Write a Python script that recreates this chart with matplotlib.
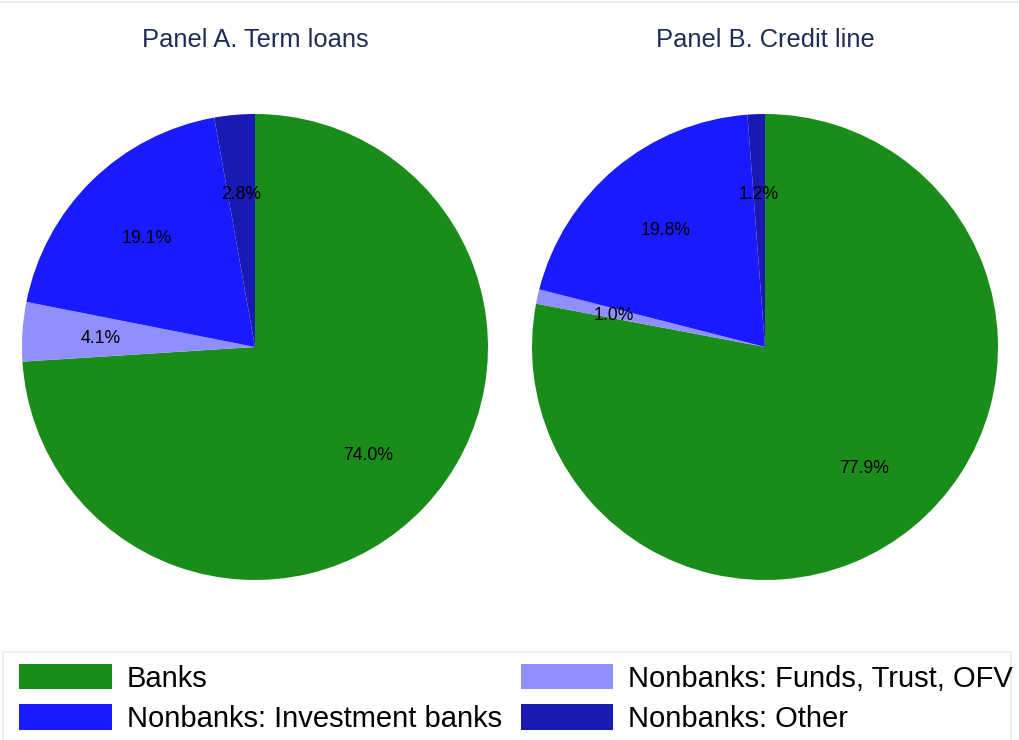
import matplotlib
matplotlib.use("Agg")
import matplotlib.pyplot as plt
from matplotlib.patches import Patch, Rectangle
from matplotlib.lines import Line2D
import numpy as np

plt.rcParams['font.family'] = ['Liberation Sans', 'DejaVu Sans']

# Category order follows the clockwise drawing order starting at 12 o'clock
categories = ["Banks", "Nonbanks: Funds, Trust, OFV",
              "Nonbanks: Investment banks", "Nonbanks: Other"]
term_loans = [74.0, 4.1, 19.1, 2.8]
credit_line = [77.9, 1.0, 19.8, 1.2]
panel_titles = ["Panel A. Term loans", "Panel B. Credit line"]

colors = ["#1a8c1a", "#8f8fff", "#1a1aff", "#1a1ab3"]
title_color = "#1e2d53"

W, H = 1019, 740
fig = plt.figure(figsize=(W / 100, H / 100), dpi=100)
fig.patch.set_facecolor("white")


def px_axes(x0, y0, x1, y1):
    """Axes from pixel box (top-left origin)."""
    return fig.add_axes([x0 / W, 1 - y1 / H, (x1 - x0) / W, (y1 - y0) / H])


def draw_panel(ax, values, title, cx):
    wedges, texts = ax.pie(
        values,
        labels=[f"{v:.1f}%" for v in values],
        colors=colors,
        startangle=90,
        counterclock=False,
        labeldistance=0.665,
        radius=1.0,
        wedgeprops=dict(linewidth=0),
        textprops=dict(fontsize=12.7, color="black"),
    )
    for t in texts:
        t.set_ha("center")
        t.set_va("center_baseline")
    ax.set_xlim(-1, 1)
    ax.set_ylim(-1, 1)
    ax.set_aspect("equal")
    ax.axis("off")
    fig.text(cx / W, 1 - 40 / H, title, ha="center", va="center",
             fontsize=18.4, color=title_color)


axA = px_axes(22, 114, 488, 580)
axB = px_axes(532, 114, 998, 580)
draw_panel(axA, term_loans, panel_titles[0], 255)
draw_panel(axB, credit_line, panel_titles[1], 765)

# Thin outer border line at the top of the graph region
fig.add_artist(Line2D([0, 1018 / W], [1 - 1.5 / H, 1 - 1.5 / H],
                      transform=fig.transFigure, color="#e6e6e6", lw=1.2))

# Legend frame (runs off the bottom edge)
fig.add_artist(Rectangle((3 / W, -0.05), (1011 - 3) / W, (1 - 652 / H) + 0.05,
                         transform=fig.transFigure, facecolor="none",
                         edgecolor="#e4ecef", lw=1.2))

handles = [Patch(facecolor=colors[i], edgecolor="none") for i in [0, 2, 1, 3]]
labels = [categories[i] for i in [0, 2, 1, 3]]
fig.legend(handles, labels, ncol=2, loc="upper left",
           bbox_to_anchor=(19 / W, 1 - 664 / H), frameon=False,
           fontsize=21, borderpad=0, borderaxespad=0,
           handlelength=3.18, handleheight=0.96, handletextpad=0.51,
           labelspacing=0.4, columnspacing=0.65)

fig.savefig("out.png", dpi=100, facecolor="white")
